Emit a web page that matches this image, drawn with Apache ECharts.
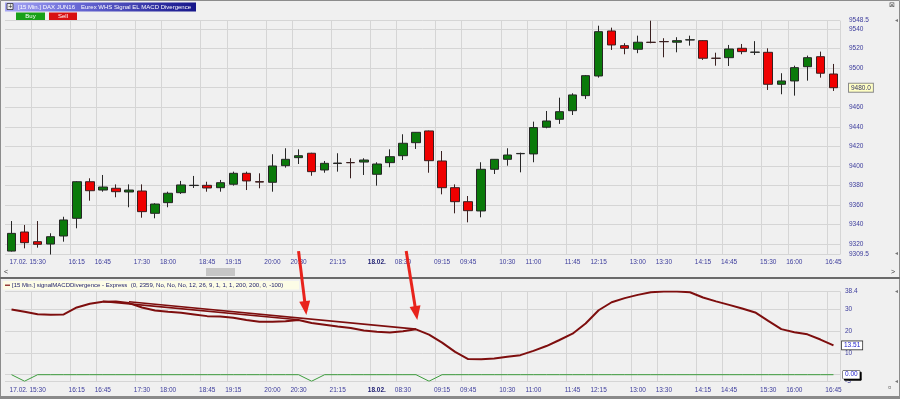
<!DOCTYPE html>
<html><head><meta charset="utf-8">
<script src="https://cdn.jsdelivr.net/npm/echarts@6/dist/echarts.min.js"></script>
<style>html,body{margin:0;padding:0;background:#f0f0f0;overflow:hidden}#c{width:900px;height:399px}</style>
</head><body><div id="c"></div>
<script>
// ---------- DATA ----------
const categories = [
 '17.02. 15:00','17.02. 15:15','17.02. 15:30','17.02. 15:45','17.02. 16:00','17.02. 16:15','17.02. 16:30','17.02. 16:45',
 '17.02. 17:00','17.02. 17:15','17.02. 17:30','17.02. 17:45','17.02. 18:00','17.02. 18:15','17.02. 18:30','17.02. 18:45',
 '17.02. 19:00','17.02. 19:15','17.02. 19:30','17.02. 19:45','17.02. 20:00','17.02. 20:15','17.02. 20:30','17.02. 20:45',
 '17.02. 21:00','17.02. 21:15','17.02. 21:30','17.02. 21:45',
 '18.02. 08:00','18.02. 08:15','18.02. 08:30','18.02. 08:45','18.02. 09:00','18.02. 09:15','18.02. 09:30','18.02. 09:45',
 '18.02. 10:00','18.02. 10:15','18.02. 10:30','18.02. 10:45','18.02. 11:00','18.02. 11:15','18.02. 11:30','18.02. 11:45',
 '18.02. 12:00','18.02. 12:15','18.02. 12:30','18.02. 12:45','18.02. 13:00','18.02. 13:15','18.02. 13:30','18.02. 13:45',
 '18.02. 14:00','18.02. 14:15','18.02. 14:30','18.02. 14:45','18.02. 15:00','18.02. 15:15','18.02. 15:30','18.02. 15:45',
 '18.02. 16:00','18.02. 16:15','18.02. 16:30','18.02. 16:45'];
const tickIdx  = [2,5,7,10,12,15,17,20,22,25,28,30,33,35,38,40,43,45,48,50,53,55,58,60,63];
const tickText = ['17.02. 15:30','16:15','16:45','17:30','18:00','18:45','19:15','20:00','20:30','21:15','18.02.','08:30',
 '09:15','09:45','10:30','11:00','11:45','12:15','13:00','13:30','14:15','14:45','15:30','16:00','16:45'];
const priceTicks = [9309.5,9320,9340,9360,9380,9400,9420,9440,9460,9480,9500,9520,9540,9548.5];
const macdTicks = [-3,0,10,20,30,38.4];
const macdLabels = [-3,10,20,30,38.4];

const opens = [9313,9332.5,9322.6,9320.2,9328.4,9346.5,9383.9,9375.4,9377.2,9373.4,
 9374.4,9351.6,9362.5,9372.7,9380,9380.2,9377.8,9381.3,9392.5,9384,
 9383.3,9400.3,9408.5,9413,9395.9,9402.5,9403.5,9404,9391.5,9403.4,
 9410.5,9423.8,9435.8,9405.1,9377.8,9363.5,9354,9396.6,9406.8,9412.5,
 9412.3,9439.6,9447.7,9456.5,9471.9,9492,9538,9523,9519.3,9526.5,
 9527.2,9526.5,9528.8,9528.1,9510.2,9510.7,9520.3,9516.2,9516.2,9483.5,
 9486.9,9501.5,9511.7,9494];
const closes = [9331.1,9321.6,9319.9,9327.7,9344.8,9383.9,9374.7,9378.5,9373.7,9375.4,
 9353.3,9361.1,9372.1,9380.6,9380.3,9377.5,9382.9,9392.5,9384.7,9383.5,
 9400,9406.8,9410.5,9394.2,9402.7,9403,9403.3,9406.1,9402,9409.5,
 9423.2,9434.4,9405.4,9377.8,9363.5,9354.3,9396.6,9406.8,9411.2,9412.8,
 9439.2,9446,9455.5,9472.6,9492.3,9537.3,9523.7,9520.3,9526.5,9526.3,
 9527,9528.1,9529,9510.1,9510,9519.6,9516.9,9516.4,9483.5,9486.9,
 9500.5,9510.7,9494.8,9480];
const highs = [9343.7,9339.7,9343.7,9331.2,9348.1,9384.5,9387.4,9390.8,9381.2,9381.2,
 9381.2,9361.9,9373.7,9384.7,9389.8,9383.9,9385.7,9394.2,9394.2,9392.5,
 9412,9418.1,9417,9413.5,9405.1,9413,9407.9,9407.9,9403.8,9417,
 9432.4,9434.6,9436.2,9415.3,9381.2,9369.3,9403.8,9407,9418.1,9413.6,
 9445.3,9456.2,9469.8,9474.3,9493,9543.4,9541.4,9525.5,9533.2,9548.5,
 9530.6,9531.6,9533.2,9528.5,9515.8,9523.7,9524.7,9527.6,9520.3,9494.8,
 9502.5,9512.8,9516.9,9504.3];
const lows = [9312.5,9315.8,9316.5,9309.5,9322.6,9336.3,9364.5,9373.7,9368,9357.8,
 9347.1,9346.5,9357.8,9371.4,9377.5,9373.7,9373.7,9379.9,9375.4,9377.2,
 9373.7,9398.3,9402,9390,9393.1,9394.2,9387.4,9390.8,9379.9,9398.7,
 9406.1,9417.4,9393.1,9371,9351.6,9342.4,9347.5,9391.8,9400.3,9393.5,
 9403.8,9438.5,9443,9452.1,9468.5,9490.3,9518.6,9514.2,9515.3,9525.4,
 9511.1,9516.2,9523,9508.4,9502.5,9502.2,9514.2,9513.5,9477.7,9473.3,
 9471.9,9487.2,9490.3,9476.7];
const macd = [30.1,29.0,27.9,27.6,27.8,31.0,32.7,33.6,33.7,33.0,
 31.0,29.6,29.0,28.6,27.8,27.0,26.8,26.3,25.2,24.4,
 24.4,24.6,25.2,23.8,23.0,22.2,21.5,20.4,19.8,19.5,
 20.0,20.9,18.5,14.8,10.5,7.2,7.1,7.5,8.3,9.0,
 11.0,13.2,16.0,18.9,23.6,29.7,33.4,35.3,36.8,38.0,
 38.4,38.4,38.0,35.6,33.8,32.2,30.5,28.7,24.8,21.0,
 19.6,18.6,16.2,13.51];
const signal = [0,-3,0,0,0,0,0,0,0,0, 0,0,0,0,0,0,0,0,0,0, 0,0,0,-3,0,0,0,0,0,0,
 0,0,-3,0,0,0,0,0,0,0, 0,0,0,0,0,0,0,0,0,0, 0,0,0,0,0,0,0,0,0,0, 0,0,0,0];
const divergenceA = [[7,33.8],[22,25.3]];
const divergenceB = [[9,33.6],[31,21.0]];
const arrowTail = [[22,9313],[30.25,9313]];   // price panel coords
const arrowTip  = [[22.6,27.5],[31.1,25.2]];  // MACD panel coords

// ---------- CHART ----------
const FONT = 'Liberation Sans';
const LBL = '#3c3c9c';
const GRIDC = '#d5d5d5';
const tickSet = new Set(tickIdx);
const tickMap = {}; tickIdx.forEach((i,k)=>tickMap[i]=tickText[k]);
function xFmt(v, i){
  const t = tickMap[i]; if (t == null) return '';
  if (t.length > 8) { const d = t.slice(0,7), h = t.slice(7); return '{n|'+d+'}'+h+'{g|'+d+'}'; }
  if (t.indexOf('.') > 0) return '{b|'+t+'}';
  return t;
}
const rich = { n:{color:LBL,fontSize:6.5,fontFamily:FONT}, g:{color:'rgba(0,0,0,0)',fontSize:6.5,fontFamily:FONT},
  b:{color:'#1c1c70',fontSize:6.5,fontWeight:'bold',fontFamily:FONT} };
function xAxis(gi, margin){
  return { type:'category', gridIndex:gi, data:categories, boundaryGap:true,
    axisLine:{show:false}, axisTick:{show:false},
    axisLabel:{interval:(i)=>tickSet.has(i), formatter:xFmt, rich, color:LBL, fontSize:6.5, fontFamily:FONT, margin},
    splitLine:{show:true, interval:(i)=>tickSet.has(i), lineStyle:{color:GRIDC,width:1}} };
}
const fmtNum = v => (Math.round(v)===v ? String(v) : v.toFixed(1));
const chart = echarts.init(document.getElementById('c'));
const candleData = opens.map((o,i)=>[o, closes[i], lows[i], highs[i]]);
const hiddenLine = {symbol:'none', silent:true, animation:false, lineStyle:{color:'rgba(0,0,0,0)', width:0, type:'solid'}, emphasis:{disabled:true}};
chart.setOption({
  animation:false,
  backgroundColor:'#f0f0f0',
  grid:[{left:5, top:20.7, width:835, height:233.8},{left:5, top:291.4, width:835, height:89.8}],
  xAxis:[xAxis(0,4.5), xAxis(1,5.5)],
  yAxis:[
    {type:'value', gridIndex:0, position:'right', min:priceTicks[0], max:priceTicks[priceTicks.length-1],
     axisLine:{show:false}, axisTick:{show:false, customValues:priceTicks},
     axisLabel:{customValues:priceTicks, formatter:fmtNum, color:LBL, fontSize:6.5, fontFamily:FONT, margin:9},
     splitLine:{lineStyle:{color:GRIDC}}},
    {type:'value', gridIndex:1, position:'right', min:macdTicks[0], max:macdTicks[macdTicks.length-1],
     axisLine:{show:false}, axisTick:{show:false, customValues:macdTicks},
     axisLabel:{customValues:macdLabels, formatter:fmtNum, color:LBL, fontSize:6.5, fontFamily:FONT, margin:5},
     splitLine:{lineStyle:{color:GRIDC}}}
  ],
  series:[
    {type:'candlestick', xAxisIndex:0, yAxisIndex:0, data:candleData, barWidth:9,
     itemStyle:{color:'#0a7a0a', color0:'#f00000', borderColor:'#262626', borderColor0:'#3a2020', borderWidth:1},
     markLine:Object.assign({}, hiddenLine, {data:[{yAxis:closes[closes.length-1]}],
       label:{show:true, position:'end', distance:9, formatter:closes[closes.length-1].toFixed(1), color:'#333366', fontSize:6.5, fontFamily:FONT,
         backgroundColor:'#ffffc4', borderColor:'#8a8a8a', borderWidth:1, padding:[1,2,0,2]}})},
    {type:'line', xAxisIndex:1, yAxisIndex:1, data:signal, symbol:'none', lineStyle:{color:'#3c9c3c', width:1}, z:2,
     markLine:Object.assign({}, hiddenLine, {data:[{yAxis:0}],
       label:{show:true, position:'end', distance:3, formatter:'0.00', color:'#2424cc', fontSize:6.5, fontFamily:FONT,
         backgroundColor:'#ffffff', borderColor:'#222', borderWidth:0.5, padding:[1,2,0,2], shadowColor:'#000', shadowOffsetX:1.5, shadowOffsetY:1.5}})},
    {type:'line', xAxisIndex:1, yAxisIndex:1, data:divergenceA, symbol:'none', lineStyle:{color:'#7e0e0e', width:1.6}, z:3},
    {type:'line', xAxisIndex:1, yAxisIndex:1, data:divergenceB, symbol:'none', lineStyle:{color:'#7e0e0e', width:1.6}, z:3},
    {type:'line', xAxisIndex:1, yAxisIndex:1, data:macd, symbol:'none', lineStyle:{color:'#7e0e0e', width:2}, z:4,
     markLine:Object.assign({}, hiddenLine, {data:[{yAxis:macd[macd.length-1]}],
       label:{show:true, position:'end', distance:2, formatter:macd[macd.length-1].toFixed(2), color:'#2424cc', fontSize:6.5, fontFamily:FONT,
         backgroundColor:'#ffffff', borderColor:'#333', borderWidth:0.8, padding:[1,2,0,2]}})}
  ]
});

// pixel helper for fractional category positions
function toPx(gi, x, y){
  const i0 = Math.floor(x), f = x - i0;
  const a = chart.convertToPixel({gridIndex:gi}, [i0, y]);
  const b = chart.convertToPixel({gridIndex:gi}, [i0+1, y]);
  return [a[0] + (b[0]-a[0])*f, a[1]];
}
const g = [];
const txt = (x,y,text,fill,size,extra) => ({type:'text', x, y, silent:true, z:50,
  style:Object.assign({text, fill, font:size+'px '+FONT, verticalAlign:'middle'}, extra||{})});
// frame & separators
g.push({type:'rect', silent:true, z:40, shape:{x:0.5,y:0.5,width:899,height:398}, style:{fill:'none', stroke:'#8c8c8c'}});
g.push({type:'rect', silent:true, z:40, shape:{x:0,y:277,width:900,height:2}, style:{fill:'#6a6a6a'}});
g.push({type:'rect', silent:true, z:40, shape:{x:0,y:396,width:900,height:3}, style:{fill:'#8a8a8a'}});
// title bar
g.push({type:'rect', silent:true, z:45, shape:{x:5,y:2.5,width:191,height:9},
  style:{fill:new echarts.graphic.LinearGradient(0,0,1,0,[{offset:0,color:'#a8a8f4'},{offset:0.35,color:'#6c6cd8'},{offset:1,color:'#16168a'}])}});
g.push({type:'rect', silent:true, z:46, shape:{x:7,y:3.5,width:6,height:6}, style:{fill:'#e8e8e8', stroke:'#333', lineWidth:0.8}});
g.push(txt(8.2,6.7,'+','#222',7));
g.push(txt(18,7.2,'[15 Min.] DAX JUN16','#ffffff',6));
g.push(txt(81,7.2,'Eurex WHS Signal EL MACD Divergence','#ffffff',6));
g.push({type:'rect', silent:true, z:45, shape:{x:16,y:12.5,width:29,height:7.5}, style:{fill:'#18a018'}});
g.push({type:'rect', silent:true, z:45, shape:{x:49,y:12.5,width:28,height:7.5}, style:{fill:'#d81010'}});
g.push(txt(30.5,16.4,'Buy','#ffffff',6,{align:'center'}));
g.push(txt(63,16.4,'Sell','#ffffff',6,{align:'center'}));
// scrollbar row
g.push(txt(4,272,'<','#333',7));
g.push({type:'rect', silent:true, z:45, shape:{x:206,y:268,width:29,height:8}, style:{fill:'#c6c6c6'}});
g.push(txt(891,272,'>','#333',7));
// right-side small icons
g.push(txt(889,5,'⊠','#555',7));
g.push(txt(894,20.7,'◄','#777',5));
g.push(txt(894,254,'◄','#777',5));
g.push(txt(894,291.4,'◄','#777',5));
g.push(txt(894,382,'◄','#777',5));
g.push(txt(888,387,'¤','#777',6));
// indicator header
g.push({type:'rect', silent:true, z:45, shape:{x:3,y:281,width:296,height:8.5}, style:{fill:'#fcfce6'}});
g.push({type:'rect', silent:true, z:46, shape:{x:5,y:284.6,width:5,height:1.2}, style:{fill:'#7e0e0e'}});
g.push(txt(12,285.4,'[15 Min.] signalMACDDivergence - Express  (0, 2359, No, No, No, 12, 26, 9, 1, 1, 1, 200, 200, 0, -100)','#1c1c6a',6));
// red arrows
arrowTail.forEach((t,k)=>{
  const p0 = toPx(0, t[0], t[1]);
  const p1 = toPx(1, arrowTip[k][0], arrowTip[k][1]);
  const dx = p1[0]-p0[0], dy = p1[1]-p0[1], L = Math.hypot(dx,dy), ux = dx/L, uy = dy/L;
  const hl = 14, hw = 5.5;
  const bx = p1[0]-ux*hl, by = p1[1]-uy*hl;
  g.push({type:'line', silent:true, z:60, shape:{x1:p0[0],y1:p0[1],x2:bx+ux*2,y2:by+uy*2}, style:{stroke:'#e8231c', lineWidth:3}});
  g.push({type:'polygon', silent:true, z:60, shape:{points:[[p1[0],p1[1]],[bx-uy*hw,by+ux*hw],[bx+uy*hw,by-ux*hw]]}, style:{fill:'#e8231c'}});
});
chart.setOption({graphic:g});
</script></body></html>
